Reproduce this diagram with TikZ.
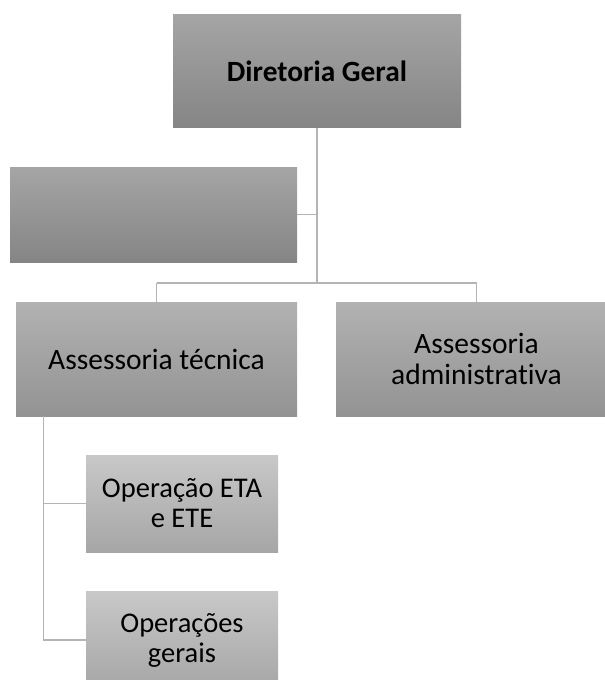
\documentclass[tikz,border=0pt]{standalone}
\usepackage{fontspec}
\setmainfont{Carlito}[Ligatures=NoCommon]
\usepackage{xcolor}
\usetikzlibrary{positioning}

\definecolor{lvlAtop}{HTML}{A5A5A5}
\definecolor{lvlAbot}{HTML}{858585}
\definecolor{lvlBtop}{HTML}{B2B2B2}
\definecolor{lvlBbot}{HTML}{939393}
\definecolor{lvlCtop}{HTML}{C8C8C8}
\definecolor{lvlCbot}{HTML}{A6A6A6}
\definecolor{linkgray}{HTML}{B4B4B4}

\begin{document}
\begin{tikzpicture}[
        x=1pt, y=-1pt,
        on grid,
        every node/.style={inner sep=0pt, align=center, text=black},
        box/.style={rectangle, draw=none},
        toplevel/.style={box, top color=lvlAtop, bottom color=lvlAbot,
          minimum width=288pt, minimum height=113pt, font=\fontsize{29.4}{32}\selectfont\bfseries},
        midlevel/.style={box, top color=lvlBtop, bottom color=lvlBbot,
          minimum width=281pt, minimum height=114pt, font=\fontsize{29.5}{31}\selectfont},
        sublevel/.style={box, top color=lvlCtop, bottom color=lvlCbot,
          minimum width=192pt, minimum height=97pt, font=\fontsize{28.5}{30}\selectfont},
        link/.style={draw=linkgray, line width=1.2pt},
      ]

      \useasboundingbox (0,0) rectangle (605,680);
      \clip (0,0) rectangle (605,680);

      \node[toplevel] (dir) at (317,71) {Diretoria Geral};

      % assistant box, no text
      \node[toplevel, minimum width=287pt, minimum height=95pt] (assist) at (153.5,214.5) {};

      \node[midlevel] (tec) at (156.5,359) {Assessoria técnica};
      \node[midlevel, right=320pt of tec] (adm) {Assessoria\\administrativa};

      \node[sublevel] (eta) at (182,503.5) {Operação ETA\\e ETE};
      \node[sublevel, below=136.5pt of eta] (ger) {Operações\\gerais};

      \coordinate (split) at (317,283);
      \coordinate (trunk) at ([xshift=28pt]tec.south west);

      \path[link]
      (dir.south) -- (split)
      (assist.east) -- (assist.east -| dir.south)
      (tec.north |- split) -- (split -| adm.north)
      (tec.north |- split) -- (tec.north)
      (split -| adm.north) -- (adm.north);

      \path[link]
      (trunk) -- (trunk |- ger.west) -- (ger.west)
      (trunk |- eta.west) -- (eta.west);

    \end{tikzpicture}
\end{document}
